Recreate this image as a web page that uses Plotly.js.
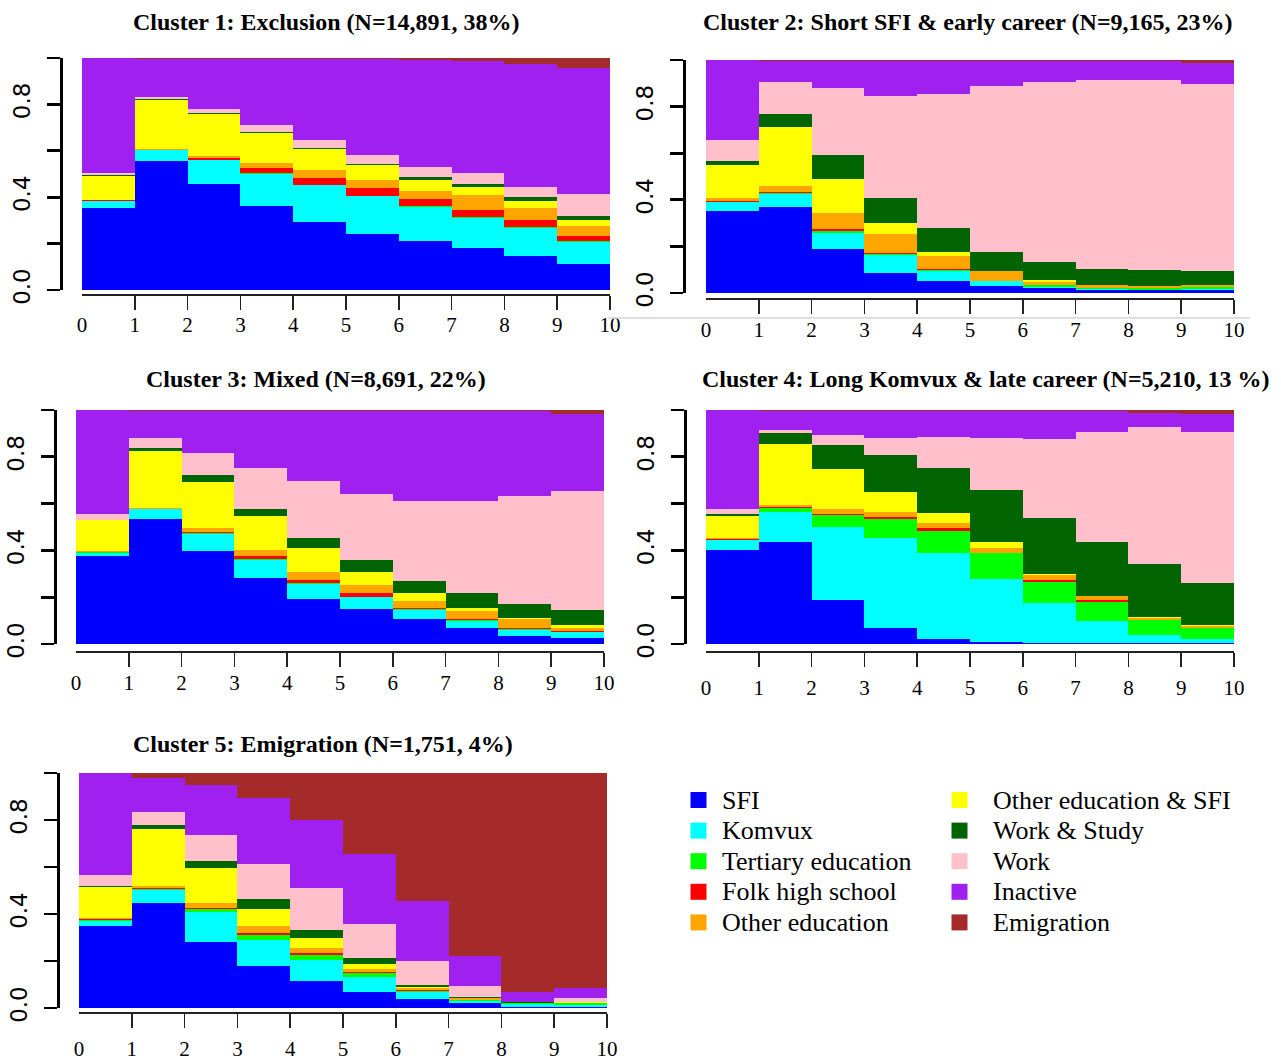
<!DOCTYPE html>
<html>
<head>
<meta charset="utf-8">
<script src="https://cdn.plot.ly/plotly-3.0.1.min.js"></script>
<style>html,body{margin:0;padding:0;background:#fff;}#chart{width:1281px;height:1061px;}</style>
</head>
<body>
<div id="chart"></div>
<script>
// ---------- DATA ----------
const timeTicks = [0, 1, 2, 3, 4, 5, 6, 7, 8, 9, 10];
const periods = [0, 1, 2, 3, 4, 5, 6, 7, 8, 9];
const yTickVals = [0, 0.2, 0.4, 0.6, 0.8, 1.0];
const yTickText = ['0.0', '', '0.4', '', '0.8', ''];

const states = ['SFI', 'Komvux', 'Tertiary education', 'Folk high school', 'Other education',
                'Other education & SFI', 'Work & Study', 'Work', 'Inactive', 'Emigration'];
const stateColors = ['#0000FF', '#00FFFF', '#00FF00', '#FF0000', '#FFA500',
                     '#FFFF00', '#006400', '#FFC0CB', '#A020F0', '#A52A2A'];

const clusterTitles = [
  'Cluster 1: Exclusion (N=14,891, 38%)',
  'Cluster 2: Short SFI & early career (N=9,165, 23%)',
  'Cluster 3: Mixed (N=8,691, 22%)',
  'Cluster 4: Long Komvux & late career (N=5,210, 13 %)',
  'Cluster 5: Emigration (N=1,751, 4%)'
];

// Cluster 1
const c1_sfi   = [.354,.556,.458,.361,.291,.241,.211,.182,.148,.113];
const c1_kom   = [.029,.047,.101,.140,.160,.164,.147,.130,.120,.096];
const c1_ter   = [.001,0,.003,.002,.002,.002,.004,.002,.002,.002];
const c1_folk  = [.004,.001,.007,.024,.028,.033,.032,.033,.032,.023];
const c1_oe    = [.002,.003,.010,.022,.035,.034,.034,.063,.050,.044];
const c1_oesfi = [.103,.212,.179,.129,.090,.065,.046,.036,.031,.023];
const c1_ws    = [.001,.006,.006,.005,.006,.005,.012,.010,.017,.018];
const c1_work  = [.009,.007,.015,.028,.036,.039,.046,.047,.046,.096];
const c1_inact = [.497,.164,.217,.285,.348,.413,.461,.484,.530,.543];
const c1_emig  = [0,.004,.004,.004,.004,.004,.007,.013,.024,.042];

// Cluster 2
const c2_sfi   = [.351,.367,.188,.086,.051,.029,.021,.013,.011,.014];
const c2_kom   = [.038,.060,.070,.075,.045,.021,.006,.006,.003,.005];
const c2_ter   = [.001,.004,.010,.006,.002,.002,.007,.003,.006,.005];
const c2_folk  = [.005,.001,.006,.006,.003,.001,.001,.001,.001,.001];
const c2_oe    = [.013,.027,.070,.079,.059,.040,.012,.011,.008,.009];
const c2_oesfi = [.143,.253,.144,.050,.018,.002,.010,.002,.002,.002];
const c2_ws    = [.017,.058,.103,.105,.103,.083,.076,.067,.067,.057];
const c2_work  = [.087,.137,.289,.438,.571,.712,.774,.810,.815,.804];
const c2_inact = [.345,.089,.116,.151,.144,.106,.089,.083,.083,.092];
const c2_emig  = [0,.004,.004,.004,.004,.004,.004,.004,.004,.011];

// Cluster 3
const c3_sfi   = [.374,.535,.397,.281,.194,.148,.107,.067,.034,.027];
const c3_kom   = [.017,.040,.074,.080,.064,.052,.037,.030,.027,.023];
const c3_ter   = [.003,.002,.002,.002,.002,.002,.004,.007,.002,.002];
const c3_folk  = [.001,.001,.005,.011,.015,.016,.006,.002,.004,.005];
const c3_oe    = [.002,.004,.017,.027,.033,.036,.029,.035,.040,.013];
const c3_oesfi = [.132,.244,.198,.144,.104,.054,.035,.013,.002,.013];
const c3_ws    = [.002,.013,.030,.034,.042,.051,.050,.064,.062,.064];
const c3_work  = [.024,.040,.092,.174,.241,.283,.345,.395,.460,.509];
const c3_inact = [.445,.117,.181,.243,.301,.354,.383,.383,.365,.327];
const c3_emig  = [0,.004,.004,.004,.004,.004,.004,.004,.004,.017];

// Cluster 4
const c4_sfi   = [.400,.434,.188,.068,.023,.010,.004,.003,.006,.006];
const c4_kom   = [.045,.132,.314,.383,.365,.269,.172,.094,.032,.015];
const c4_ter   = [.001,.017,.050,.084,.096,.109,.091,.084,.063,.046];
const c4_folk  = [.001,.001,.003,.007,.012,.002,.008,.008,.002,.002];
const c4_oe    = [.004,.009,.023,.023,.023,.021,.021,.016,.009,.009];
const c4_oesfi = [.097,.263,.170,.086,.040,.023,.002,.002,.002,.002];
const c4_ws    = [.007,.046,.103,.158,.195,.223,.240,.231,.227,.182];
const c4_work  = [.021,.011,.041,.070,.132,.222,.337,.467,.585,.646];
const c4_inact = [.424,.083,.104,.117,.110,.117,.121,.091,.063,.075];
const c4_emig  = [0,.004,.004,.004,.004,.004,.004,.004,.011,.017];

// Cluster 5
const c5_sfi   = [.349,.447,.281,.178,.114,.067,.040,.021,.003,.006];
const c5_kom   = [.023,.057,.127,.113,.091,.065,.028,.009,.013,.008];
const c5_ter   = [.002,.004,.015,.020,.022,.016,.006,.004,.005,.007];
const c5_folk  = [.005,.002,.002,.007,.009,.007,.002,.002,0,0];
const c5_oe    = [.005,.010,.022,.031,.021,.011,.008,.005,.002,.002];
const c5_oesfi = [.130,.241,.148,.074,.040,.022,.007,.002,0,.002];
const c5_ws    = [.006,.016,.029,.040,.034,.024,.007,.004,.001,.002];
const c5_work  = [.045,.057,.113,.148,.178,.147,.101,.045,.003,.014];
const c5_inact = [.435,.145,.212,.281,.292,.297,.258,.130,.040,.044];
const c5_emig  = [0,.021,.051,.108,.199,.344,.543,.778,.933,.915];

const clusters = [
  [c1_sfi, c1_kom, c1_ter, c1_folk, c1_oe, c1_oesfi, c1_ws, c1_work, c1_inact, c1_emig],
  [c2_sfi, c2_kom, c2_ter, c2_folk, c2_oe, c2_oesfi, c2_ws, c2_work, c2_inact, c2_emig],
  [c3_sfi, c3_kom, c3_ter, c3_folk, c3_oe, c3_oesfi, c3_ws, c3_work, c3_inact, c3_emig],
  [c4_sfi, c4_kom, c4_ter, c4_folk, c4_oe, c4_oesfi, c4_ws, c4_work, c4_inact, c4_emig],
  [c5_sfi, c5_kom, c5_ter, c5_folk, c5_oe, c5_oesfi, c5_ws, c5_work, c5_inact, c5_emig]
];

// ---------- LAYOUT GEOMETRY (pixels) ----------
const W = 1281, H = 1061;
const panels = [
  {x0: 82,  x1: 610,  yTop: 58,  yBot: 290, yAxX: 61,  xAxY: 294, xLab: 11, titleX: 326, titleY: 22},
  {x0: 706, x1: 1234, yTop: 60,  yBot: 293, yAxX: 684, xAxY: 298, xLab: 12, titleX: 968, titleY: 22},
  {x0: 76,  x1: 604,  yTop: 410, yBot: 644, yAxX: 55,  xAxY: 651, xLab: 12, titleX: 316, titleY: 379},
  {x0: 706, x1: 1234, yTop: 410, yBot: 644, yAxX: 685, xAxY: 651, xLab: 17, titleX: 986, titleY: 379},
  {x0: 79,  x1: 607,  yTop: 773, yBot: 1008, yAxX: 58, xAxY: 1012, xLab: 17, titleX: 323, titleY: 744}
];

const traces = [];
const layout = {
  width: W, height: H,
  margin: {l: 0, r: 0, t: 0, b: 0, pad: 0},
  paper_bgcolor: '#fff', plot_bgcolor: 'rgba(0,0,0,0)',
  barmode: 'stack', bargap: 0,
  showlegend: false,
  font: {family: 'Liberation Serif', color: '#000'},
  annotations: [], shapes: []
};

panels.forEach((p, i) => {
  const k = i + 1;
  const xa = k === 1 ? 'x' : 'x' + k;
  const ya = k === 1 ? 'y' : 'y' + k;
  clusters[i].forEach((vals, s) => {
    traces.push({
      type: 'bar',
      x: periods.map(t => t + 0.5),
      y: vals,
      width: 1,
      name: states[s],
      marker: {color: stateColors[s], line: {width: 0}},
      xaxis: xa, yaxis: ya,
      showlegend: false,
      hovertemplate: states[s] + ': %{y}<extra></extra>'
    });
  });
  layout[k === 1 ? 'xaxis' : 'xaxis' + k] = {
    domain: [p.x0 / W, p.x1 / W], range: [0, 10],
    anchor: 'free', position: 1 - p.xAxY / H,
    showgrid: false, zeroline: false,
    showline: true, linecolor: '#222', linewidth: 1.5,
    tickmode: 'array', tickvals: timeTicks, ticktext: timeTicks.map(String),
    ticks: '', ticklabelstandoff: p.xLab,
    tickfont: {family: 'Liberation Serif', size: 21, color: '#000'},
    minor: {tickmode: 'array', tickvals: timeTicks.slice(1), ticks: 'outside',
            ticklen: 14, tickwidth: 1.5, tickcolor: '#222', showgrid: false},
    fixedrange: true
  };
  layout[k === 1 ? 'yaxis' : 'yaxis' + k] = {
    domain: [1 - p.yBot / H, 1 - p.yTop / H], range: [0, 1],
    anchor: 'free', position: p.yAxX / W,
    showgrid: false, zeroline: false,
    showline: true, linecolor: '#000', linewidth: 2.7,
    tickmode: 'array', tickvals: yTickVals, ticktext: yTickText,
    ticks: 'outside', ticklen: 13, tickwidth: 2.7, tickcolor: '#000',
    tickangle: -90, ticklabelstandoff: 8,
    tickfont: {family: 'DejaVu Sans', size: 23, color: '#000'},
    fixedrange: true
  };
  layout.annotations.push({
    xref: 'paper', yref: 'paper', x: p.titleX / W, y: 1 - p.titleY / H,
    xanchor: 'center', yanchor: 'middle', showarrow: false,
    text: clusterTitles[i],
    font: {family: 'Liberation Serif', size: 24, color: '#000', weight: 700}
  });
});

// faint separator line seen under cluster 2 axis
layout.shapes.push({type: 'line', xref: 'paper', yref: 'paper',
  x0: 608 / W, x1: 1250 / W, y0: 1 - 318 / H, y1: 1 - 318 / H,
  line: {color: '#d4d4d4', width: 1.5}});

// legend (two columns, column-major)
const legCols = [{sq: 698.5, tx: 720}, {sq: 959.5, tx: 991}];
const legRow0 = 800, legRowStep = 30.6, sq = 16;
states.forEach((name, s) => {
  const col = legCols[Math.floor(s / 5)];
  const cy = legRow0 + (s % 5) * legRowStep;
  layout.shapes.push({type: 'rect', xref: 'paper', yref: 'paper',
    x0: (col.sq - sq / 2) / W, x1: (col.sq + sq / 2) / W,
    y0: 1 - (cy + sq / 2) / H, y1: 1 - (cy - sq / 2) / H,
    fillcolor: stateColors[s], line: {width: 0}});
  layout.annotations.push({xref: 'paper', yref: 'paper',
    x: col.tx / W, y: 1 - cy / H, xanchor: 'left', yanchor: 'middle',
    showarrow: false, text: name,
    font: {family: 'Liberation Serif', size: 26, color: '#000'}});
});

Plotly.newPlot('chart', traces, layout, {staticPlot: true, displayModeBar: false});
</script>
</body>
</html>
